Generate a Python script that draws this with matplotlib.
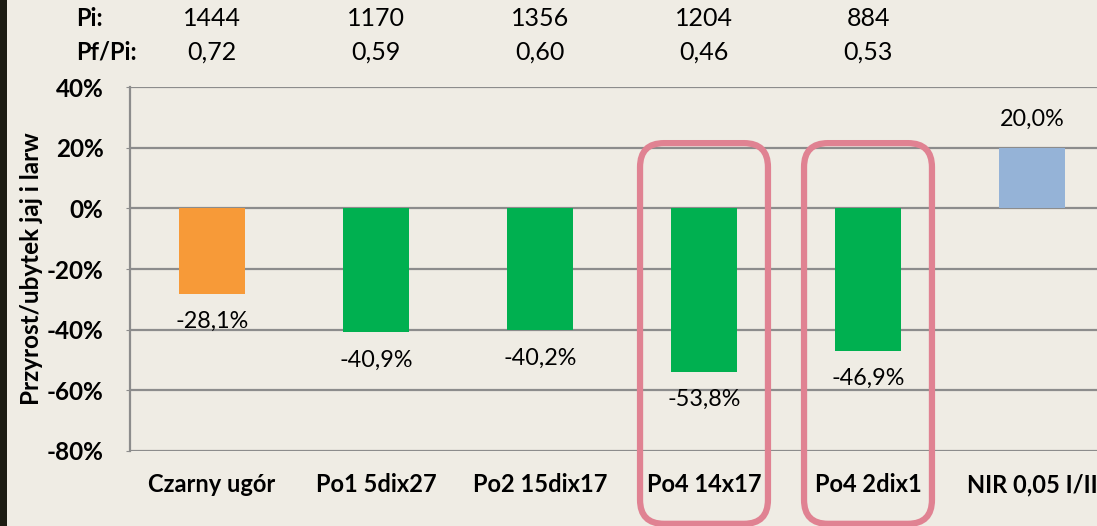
import matplotlib.pyplot as plt
from matplotlib.patches import FancyBboxPatch, Rectangle
from matplotlib.transforms import IdentityTransform

# data
categories = ["Czarny ugór", "Po1 5dix27", "Po2 15dix17", "Po4 14x17", "Po4 2dix1", "NIR 0,05 I/II"]
change = [-28.1, -40.9, -40.2, -53.8, -46.9, 20.0]
bar_colors = ["#F79A38", "#00B050", "#00B050", "#00B050", "#00B050", "#95B3D7"]
pi_values = ["1444", "1170", "1356", "1204", "884"]
pfpi_values = ["0,72", "0,59", "0,60", "0,46", "0,53"]
highlighted = [3, 4]
yticks = [40, 20, 0, -20, -40, -60, -80]

W, H = 1097, 526
bg = "#EFECE4"
plt.rcParams['font.family'] = ['Lato', 'DejaVu Sans']

fig = plt.figure(figsize=(W / 100, H / 100), dpi=100, facecolor=bg)
# dark strip on the left edge
fig.patches.append(Rectangle((0, 0), 7 / W, 1, transform=fig.transFigure,
                             facecolor="#1C1C12", edgecolor="none"))

ax = fig.add_axes([130 / W, 75 / H, 984 / W, 364 / H])
ax.set_facecolor(bg)
x = list(range(len(categories)))
ax.bar(x, change, width=0.4, color=bar_colors, zorder=3)
ax.set_xlim(-0.5, len(categories) - 0.5)
ax.set_ylim(-80, 40)
ax.set_yticks(yticks)
ax.set_yticklabels([f"{t}%" for t in yticks], fontsize=17.5, fontweight="bold")
ax.set_xticks(x)
ax.set_xticklabels(categories, fontsize=17, fontweight="bold")
ax.tick_params(axis="x", length=0, pad=16)
ax.tick_params(axis="y", length=3, color="#8C8C8C", pad=16)
ax.grid(axis="y", color="#8C8C8C", linewidth=1.6, zorder=0)
for s in ["top", "right", "bottom"]:
    ax.spines[s].set_visible(False)
ax.spines["left"].set_color("#8C8C8C")
ax.spines["left"].set_linewidth(1.6)
ax.set_ylabel("Przyrost/ubytek jaj i larw", fontsize=17.5, fontweight="bold", labelpad=3)

for xi, v in zip(x, change):
    off = -27 if v < 0 else 27
    ax.annotate(f"{v:.1f}%".replace(".", ","), (xi, v), xytext=(0, off * 0.75),
                textcoords="offset points", ha="center", va="center", fontsize=16.8, zorder=4)

# header rows above the plot
row_y = [1 - 18 / H, 1 - 52 / H]
fig.text(76 / W, row_y[0], "Pi:", fontsize=17, fontweight="bold", va="center")
fig.text(76 / W, row_y[1], "Pf/Pi:", fontsize=17, fontweight="bold", va="center")
for xi, a, b in zip(x, pi_values, pfpi_values):
    fx = ax.transData.transform((xi, 0))[0] / W
    fig.text(fx, row_y[0], a, fontsize=18, ha="center", va="center")
    fig.text(fx, row_y[1], b, fontsize=18, ha="center", va="center")

# rounded frames around the highlighted treatments
for i in highlighted:
    x0, y1 = ax.transData.transform((i - 0.39, 21.5))
    x1, y0 = ax.transData.transform((i + 0.39, -104))
    box = FancyBboxPatch((x0, y0), x1 - x0, y1 - y0,
                         boxstyle="round,pad=0,rounding_size=24",
                         transform=IdentityTransform(), facecolor="none",
                         edgecolor="#E08292", linewidth=4.5, clip_on=False, zorder=5)
    fig.patches.append(box)

fig.savefig("out.png", dpi=100, facecolor=bg)
